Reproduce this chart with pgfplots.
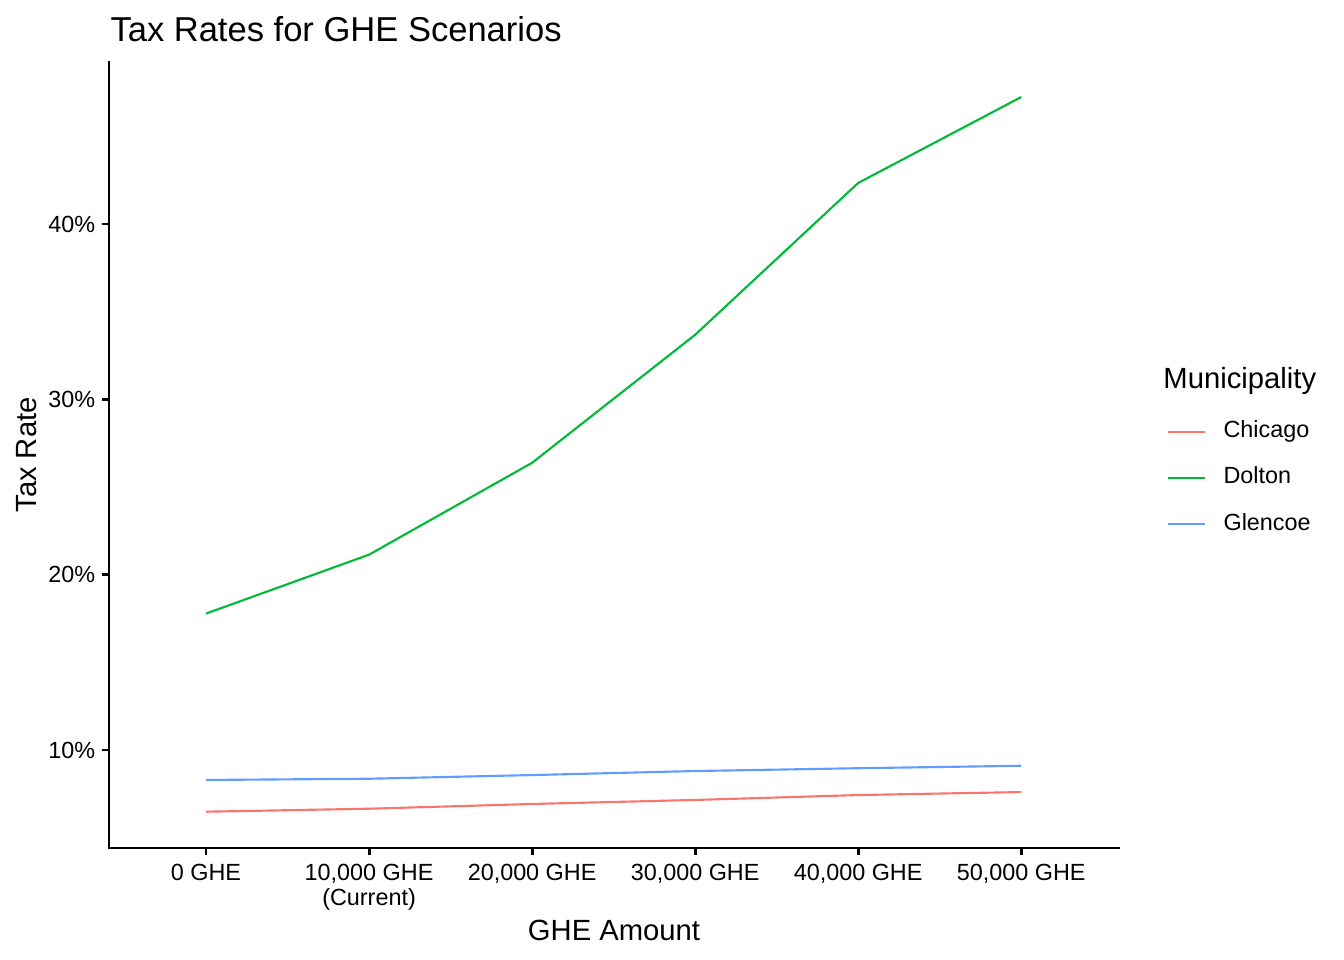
\documentclass[border=0pt]{standalone}
\usepackage{fontspec}
\setmainfont{Liberation Sans}
\usepackage{pgfplots}
\pgfplotsset{compat=1.18}
\definecolor{cChi}{HTML}{F8766D}
\definecolor{cDol}{HTML}{00BA38}
\definecolor{cGle}{HTML}{619CFF}
\begin{document}
\begin{tikzpicture}
\useasboundingbox (0,0) rectangle (504bp,360bp);
\begin{axis}[
  at={(40.875bp,42bp)}, anchor=south west,
  scale only axis, width=378.75bp, height=294.75bp,
  xmin=-0.595, xmax=5.6, ymin=4.41, ymax=49.24,
  axis x line*=bottom, axis y line*=left,
  axis line style={line width=1.1bp, -, line cap=rect},
  tick align=outside, major tick length=2.75bp,
  tick style={line width=1.1bp, black},
  xtick={0,1,2,3,4,5},
  xticklabels={0 GHE,{10,000 GHE\\(Current)},{20,000 GHE},{30,000 GHE},{40,000 GHE},{50,000 GHE}},
  ytick={10,20,30,40},
  yticklabels={10\%,20\%,30\%,40\%},
  /pgf/number format/assume math mode=true,
  xticklabel style={align=center, anchor=north, inner sep=0pt, font=\fontsize{8.8}{9.75}\selectfont, yshift=-2.95bp},
  yticklabel style={anchor=east, inner sep=0pt, font=\fontsize{8.8}{10}\selectfont, xshift=-2.2bp},
  legend style={at={(axis description cs:1.0465,0.5449)}, anchor=north west, draw=none, fill=none,
    font=\fontsize{8.8}{10}\selectfont, row sep=8.9bp, column sep=6.7bp, inner sep=0pt,
    nodes={inner sep=0pt, text height=6.5bp, text depth=2bp}},
  legend cell align=left,
  legend image code/.code={\draw[#1] (0bp,0bp) -- (13.9bp,0bp);},
]
\addplot[cChi, line width=0.8bp] coordinates {(0,6.48) (1,6.65) (2,6.92) (3,7.15) (4,7.43) (5,7.60)};
\addlegendentry{Chicago}
\addplot[cDol, line width=0.8bp] coordinates {(0,17.78) (1,21.14) (2,26.38) (3,33.68) (4,42.34) (5,47.24)};
\addlegendentry{Dolton}
\addplot[cGle, line width=0.8bp] coordinates {(0,8.29) (1,8.36) (2,8.57) (3,8.80) (4,8.96) (5,9.10)};
\addlegendentry{Glencoe}
\end{axis}
\node[anchor=west, inner sep=0pt, font=\fontsize{13}{15}\selectfont] at (41.25bp,349bp) {Tax Rates for GHE Scenarios};
\node[rotate=90, inner sep=0pt, font=\fontsize{11}{13}\selectfont] at (10.1bp,189.4bp) {Tax Rate};
\node[inner sep=0pt, font=\fontsize{11}{13}\selectfont] at (230.25bp,11.25bp) {GHE Amount};
\node[anchor=west, inner sep=0pt, font=\fontsize{11}{13}\selectfont] at (436.1bp,217.1bp) {Municipality};
\end{tikzpicture}
\end{document}
